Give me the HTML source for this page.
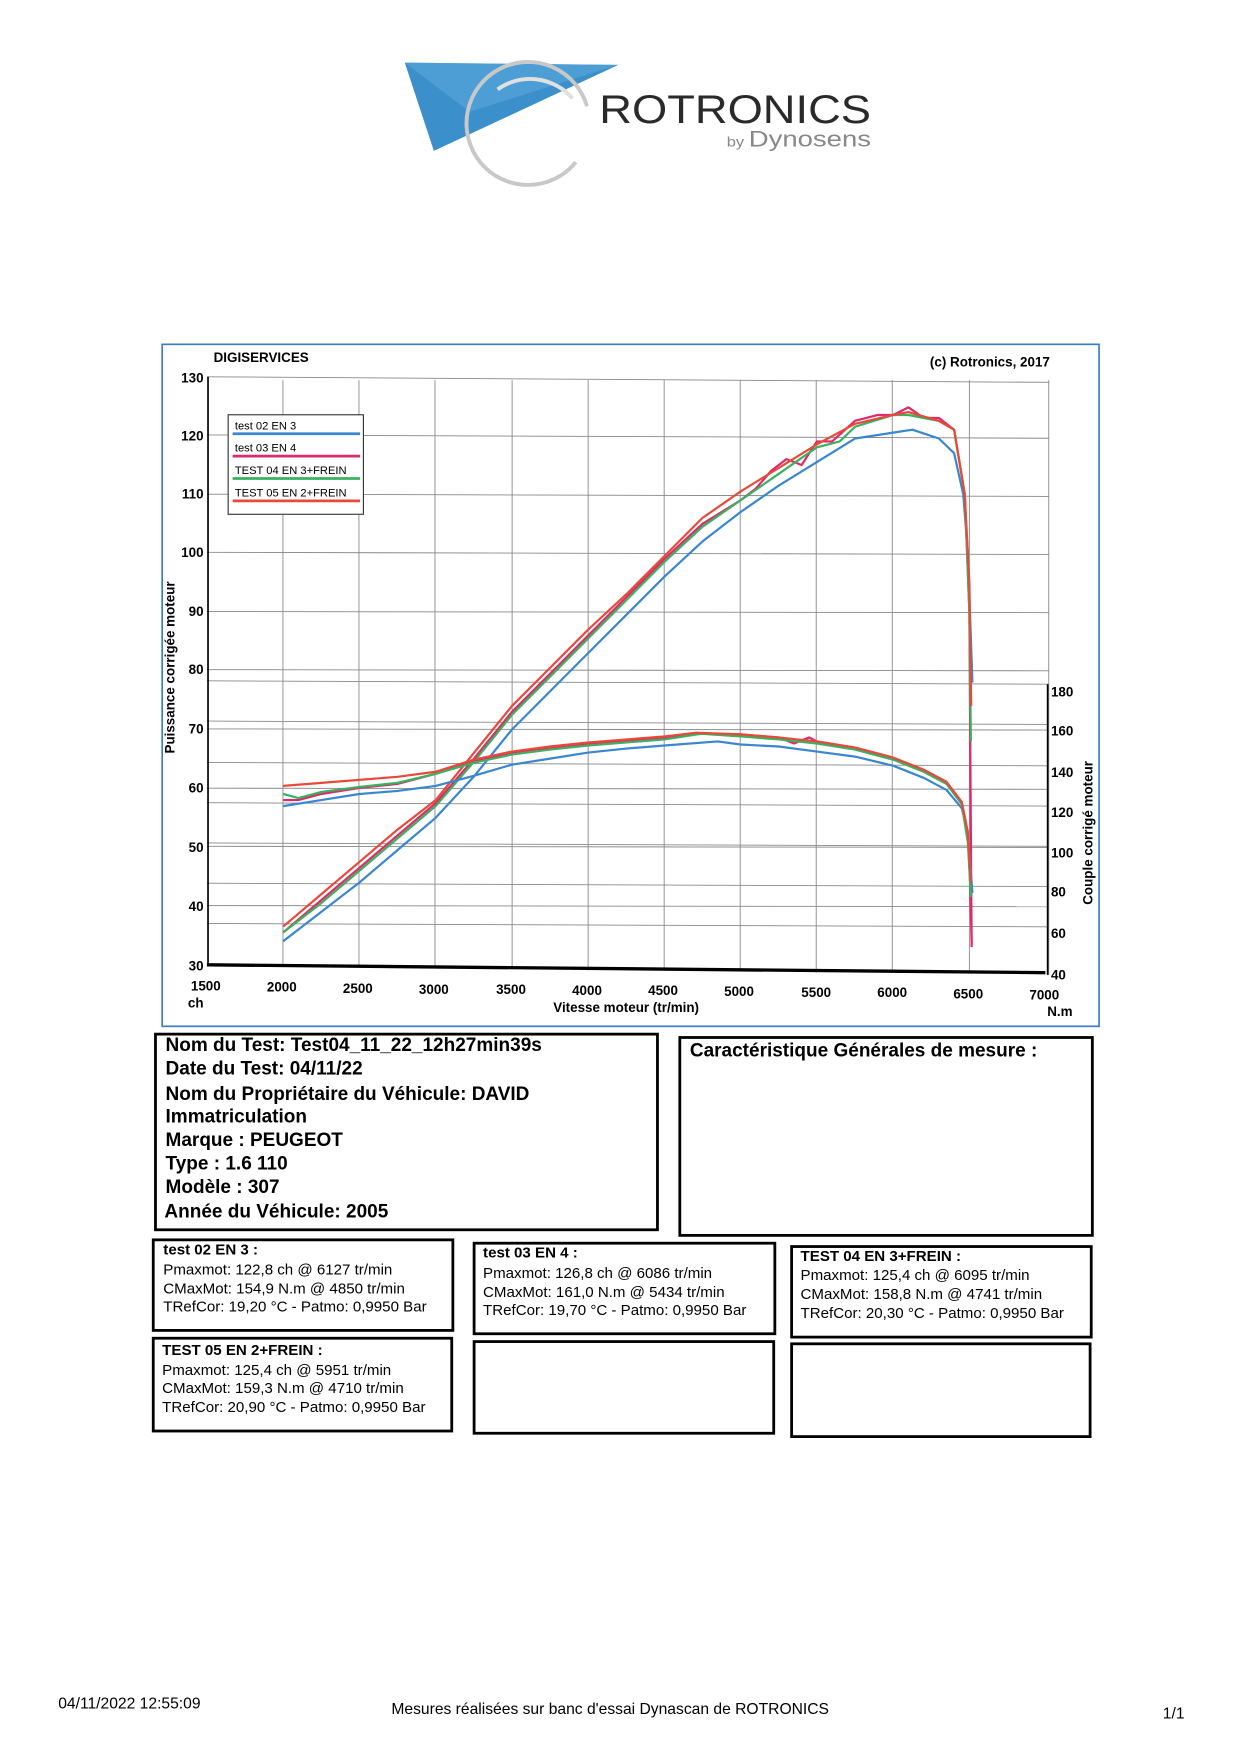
<!DOCTYPE html>
<html><head><meta charset="utf-8"><style>
html,body{margin:0;padding:0;background:#fff;}
svg{display:block;font-family:"Liberation Sans",Arial,sans-serif;}
</style></head><body>
<svg width="1240" height="1753" viewBox="0 0 1109 1568" xmlns="http://www.w3.org/2000/svg">
<rect width="1109" height="1568" fill="#fff"/>
<!-- logo -->
<polygon points="362,56 553,58 388,135" fill="#3b8fcb"/>
<polygon points="362,56 553,58 420,100" fill="#5aa8dc" opacity="0.6"/>
<path d="M525,95 A55,55 0 1 0 515,145" fill="none" stroke="#c8c8c8" stroke-width="3.5"/>
<path d="M512,88 A50,50 0 0 0 445,80" fill="none" stroke="#e0e0e0" stroke-width="3.5"/>
<text x="536" y="110" font-size="36" fill="#2a2a2a" textLength="243" lengthAdjust="spacingAndGlyphs">ROTRONICS</text>
<text x="650" y="131" font-size="20" fill="#888" textLength="129" lengthAdjust="spacingAndGlyphs"><tspan font-size="12">by </tspan>Dynosens</text>

<!-- chart frame -->
<rect x="145" y="308" width="838" height="610" fill="none" stroke="#3b7dc4" stroke-width="1.5"/>
<text x="191" y="324" font-size="12" font-weight="bold">DIGISERVICES</text>
<text x="939" y="328" font-size="12" font-weight="bold" text-anchor="end">(c) Rotronics, 2017</text>

<!-- grid -->
<g stroke="#888" stroke-width="0.8">
<line x1="185" y1="337" x2="938" y2="342"/>
<line x1="185" y1="389" x2="938" y2="392"/>
<line x1="185" y1="442" x2="938" y2="444"/>
<line x1="185" y1="494" x2="938" y2="496"/>
<line x1="185" y1="547" x2="938" y2="548"/>
<line x1="185" y1="599" x2="938" y2="600"/>
<line x1="185" y1="652" x2="938" y2="653"/>
<line x1="185" y1="705" x2="938" y2="706"/>
<line x1="185" y1="757" x2="938" y2="758"/>
<line x1="185" y1="810" x2="938" y2="811"/>
<line x1="185" y1="609" x2="938" y2="612"/>
<line x1="185" y1="645" x2="938" y2="648"/>
<line x1="185" y1="682" x2="938" y2="685"/>
<line x1="185" y1="718" x2="938" y2="721"/>
<line x1="185" y1="754" x2="938" y2="757"/>
<line x1="185" y1="790" x2="938" y2="793"/>
<line x1="185" y1="826" x2="938" y2="829"/>
<line x1="253" y1="340" x2="253" y2="864"/>
<line x1="321" y1="340" x2="321" y2="865"/>
<line x1="389" y1="340" x2="389" y2="866"/>
<line x1="458" y1="340" x2="458" y2="867"/>
<line x1="526" y1="340" x2="526" y2="868"/>
<line x1="594" y1="340" x2="594" y2="868"/>
<line x1="662" y1="340" x2="662" y2="869"/>
<line x1="730" y1="340" x2="730" y2="870"/>
<line x1="798" y1="340" x2="798" y2="870"/>
<line x1="867" y1="340" x2="867" y2="871"/>
<line x1="938" y1="340" x2="938" y2="872"/>
</g>
<!-- axes -->
<line x1="186" y1="337" x2="186" y2="864" stroke="#000" stroke-width="1.5"/>
<line x1="185" y1="863" x2="935" y2="870" stroke="#000" stroke-width="3"/>
<line x1="937" y1="612" x2="937" y2="872" stroke="#000" stroke-width="1.5"/>
<g font-size="12" font-weight="bold" text-anchor="end">
<text x="182" y="342">130</text><text x="182" y="394">120</text><text x="182" y="446">110</text>
<text x="182" y="498">100</text><text x="182" y="551">90</text><text x="182" y="603">80</text>
<text x="182" y="656">70</text><text x="182" y="709">60</text><text x="182" y="762">50</text>
<text x="182" y="815">40</text><text x="182" y="868">30</text>
</g>
<g font-size="12" font-weight="bold">
<text x="940" y="623">180</text><text x="940" y="658">160</text><text x="940" y="695">140</text>
<text x="940" y="731">120</text><text x="940" y="767">100</text><text x="940" y="802">80</text>
<text x="940" y="839">60</text><text x="940" y="876">40</text>
</g>
<g font-size="12" font-weight="bold" text-anchor="middle">
<text x="184" y="886">1500</text><text x="252" y="887">2000</text><text x="320" y="888">2500</text>
<text x="388" y="889">3000</text><text x="457" y="889">3500</text><text x="525" y="890">4000</text>
<text x="593" y="890">4500</text><text x="661" y="891">5000</text><text x="730" y="892">5500</text>
<text x="798" y="892">6000</text><text x="866" y="893">6500</text><text x="934" y="894">7000</text>
<text x="175" y="901">ch</text><text x="560" y="905">Vitesse moteur (tr/min)</text>
<text x="948" y="909">N.m</text>
</g>
<text transform="translate(156,597) rotate(-90)" font-size="12" font-weight="bold" text-anchor="middle">Puissance corrigée moteur</text>
<text transform="translate(977,745) rotate(-90)" font-size="12" font-weight="bold" text-anchor="middle">Couple corrigé moteur</text>

<!-- power curves -->
<g transform="matrix(0.1364,0,0,-5.26,-19.6,1020.8)" fill="none" stroke-width="2.2" stroke-linejoin="round">
<polyline vector-effect="non-scaling-stroke" stroke="#3a86d0" points="2000,34 2250,39 2500,44 2750,49.5 3000,55 3250,62 3500,70 3750,76.5 4000,83 4250,89.5 4500,96 4750,102 5000,107 5250,111.5 5500,115.5 5750,119.5 6000,120.5 6127,121 6300,119.5 6400,117 6460,110 6490,100 6520,78"/>
<polyline vector-effect="non-scaling-stroke" stroke="#de2a6a" points="2000,35.5 2250,41 2500,46.5 2750,52 3000,57.5 3250,65 3500,73 3750,79.5 4000,86 4250,92.5 4500,99 4750,105 5000,109 5100,111 5200,114 5300,116 5400,115 5500,119 5600,119 5750,122.5 5900,123.5 6000,123.5 6100,124.8 6200,123 6300,123 6400,121 6470,110 6500,90 6515,33"/>
<polyline vector-effect="non-scaling-stroke" stroke="#3bb060" points="2000,35.5 2250,40.5 2500,46 2750,51.5 3000,57 3250,64.5 3500,72.5 3750,79 4000,85.5 4250,92 4500,98.5 4750,104.5 5000,109 5250,113.5 5500,118 5650,119 5750,121.5 6000,123.5 6100,123.5 6300,122.5 6400,121 6470,110 6500,90 6510,68"/>
<polyline vector-effect="non-scaling-stroke" stroke="#e84a3a" points="2000,36.5 2250,42 2500,47.5 2750,53 3000,58 3250,66 3500,74 3750,80.5 4000,87 4250,93 4500,99.5 4750,106 5000,110.5 5250,114.5 5500,118.5 5750,122 6000,123.5 6100,124 6300,122.5 6400,121 6470,110 6500,95 6512,74"/>
</g>
<!-- torque curves -->
<g transform="matrix(0.1364,0,0,-1.807,-19.6,943.3)" fill="none" stroke-width="2.2" stroke-linejoin="round">
<polyline vector-effect="non-scaling-stroke" stroke="#3a86d0" points="2000,123 2250,126 2500,129 2750,130.5 3000,133 3250,138 3500,143.5 3750,146.5 4000,149.5 4250,151.5 4500,153 4850,155 5000,153.5 5250,152.5 5500,150 5750,147.5 6000,143 6200,137 6350,131 6450,122 6490,110 6520,80"/>
<polyline vector-effect="non-scaling-stroke" stroke="#de2a6a" points="2000,126 2100,126 2250,129 2500,132 2750,134 3000,139 3250,145 3500,149.5 3750,152 4000,154 4500,157 4750,159 5000,158.5 5250,157 5350,154 5450,157 5500,155 5750,152 6000,147 6200,141 6350,135 6450,125 6490,110 6505,85 6515,55"/>
<polyline vector-effect="non-scaling-stroke" stroke="#3bb060" points="2000,129 2100,127 2250,130 2500,132.5 2750,134.5 3000,139 3250,144.5 3500,148.5 3750,151 4000,153 4500,156 4741,158.8 5000,157.5 5250,156 5500,154 5750,151 6000,146 6200,140 6350,134 6450,124 6490,105 6510,78"/>
<polyline vector-effect="non-scaling-stroke" stroke="#e84a3a" points="2000,133 2250,134.5 2500,136 2750,137.5 3000,140 3250,146 3500,150 3750,152.5 4000,154.5 4500,157.5 4710,159.3 5000,158.5 5250,157 5500,155 5750,152 6000,147 6200,141 6350,135 6450,125 6490,110 6510,85"/>
</g>

<!-- legend -->
<rect x="204" y="371" width="121" height="89" fill="#fff" stroke="#333" stroke-width="1"/>
<g font-size="10">
<text x="210" y="384">test 02 EN 3</text><line x1="208" y1="388" x2="322" y2="388" stroke="#3a86d0" stroke-width="2.5"/>
<text x="210" y="404">test 03 EN 4</text><line x1="208" y1="408" x2="322" y2="408" stroke="#de2a6a" stroke-width="2.5"/>
<text x="210" y="424">TEST 04 EN 3+FREIN</text><line x1="208" y1="428" x2="322" y2="428" stroke="#3bb060" stroke-width="2.5"/>
<text x="210" y="444">TEST 05 EN 2+FREIN</text><line x1="208" y1="448" x2="322" y2="448" stroke="#e84a3a" stroke-width="2.5"/>
</g>

<!-- info boxes -->
<g fill="none" stroke="#000" stroke-width="2.5">
<rect x="139" y="925" width="449" height="175"/>
<rect x="608" y="928" width="369" height="177"/>
<rect x="137" y="1109" width="268" height="81"/>
<rect x="424" y="1112" width="269" height="81"/>
<rect x="708" y="1115" width="268" height="81"/>
<rect x="137" y="1197" width="267" height="83"/>
<rect x="424" y="1200" width="268" height="82"/>
<rect x="708" y="1202" width="267" height="83"/>
</g>
<g font-size="17" font-weight="bold">
<text x="148" y="940">Nom du Test: Test04_11_22_12h27min39s</text>
<text x="148" y="961">Date du Test: 04/11/22</text>
<text x="148" y="984">Nom du Propriétaire du Véhicule: DAVID</text>
<text x="148" y="1004">Immatriculation</text>
<text x="148" y="1025">Marque  : PEUGEOT</text>
<text x="148" y="1046">Type  : 1.6 110</text>
<text x="148" y="1067">Modèle  : 307</text>
<text x="147" y="1089">Année du Véhicule: 2005</text>
<text x="617" y="945">Caractéristique Générales de mesure :</text>
</g>
<g font-size="13.5">
<text x="146" y="1122" font-weight="bold">test 02 EN 3 :</text>
<text x="146" y="1140">Pmaxmot: 122,8 ch @ 6127 tr/min</text>
<text x="146" y="1157">CMaxMot: 154,9 N.m @ 4850 tr/min</text>
<text x="146" y="1173">TRefCor: 19,20 °C - Patmo: 0,9950 Bar</text>
<text x="432" y="1125" font-weight="bold">test 03 EN 4 :</text>
<text x="432" y="1143">Pmaxmot: 126,8 ch @ 6086 tr/min</text>
<text x="432" y="1160">CMaxMot: 161,0 N.m @ 5434 tr/min</text>
<text x="432" y="1176">TRefCor: 19,70 °C - Patmo: 0,9950 Bar</text>
<text x="716" y="1128" font-weight="bold">TEST 04 EN 3+FREIN :</text>
<text x="716" y="1145">Pmaxmot: 125,4 ch @ 6095 tr/min</text>
<text x="716" y="1162">CMaxMot: 158,8 N.m @ 4741 tr/min</text>
<text x="716" y="1179">TRefCor: 20,30 °C - Patmo: 0,9950 Bar</text>
<text x="145" y="1212" font-weight="bold">TEST 05 EN 2+FREIN :</text>
<text x="145" y="1230">Pmaxmot: 125,4 ch @ 5951 tr/min</text>
<text x="145" y="1246">CMaxMot: 159,3 N.m @ 4710 tr/min</text>
<text x="145" y="1263">TRefCor: 20,90 °C - Patmo: 0,9950 Bar</text>
</g>
<!-- footer -->
<g font-size="14">
<text x="52" y="1528">04/11/2022 12:55:09</text>
<text x="350" y="1533">Mesures réalisées sur banc d'essai Dynascan de ROTRONICS</text>
<text x="1040" y="1537">1/1</text>
</g>
</svg>
</body></html>
